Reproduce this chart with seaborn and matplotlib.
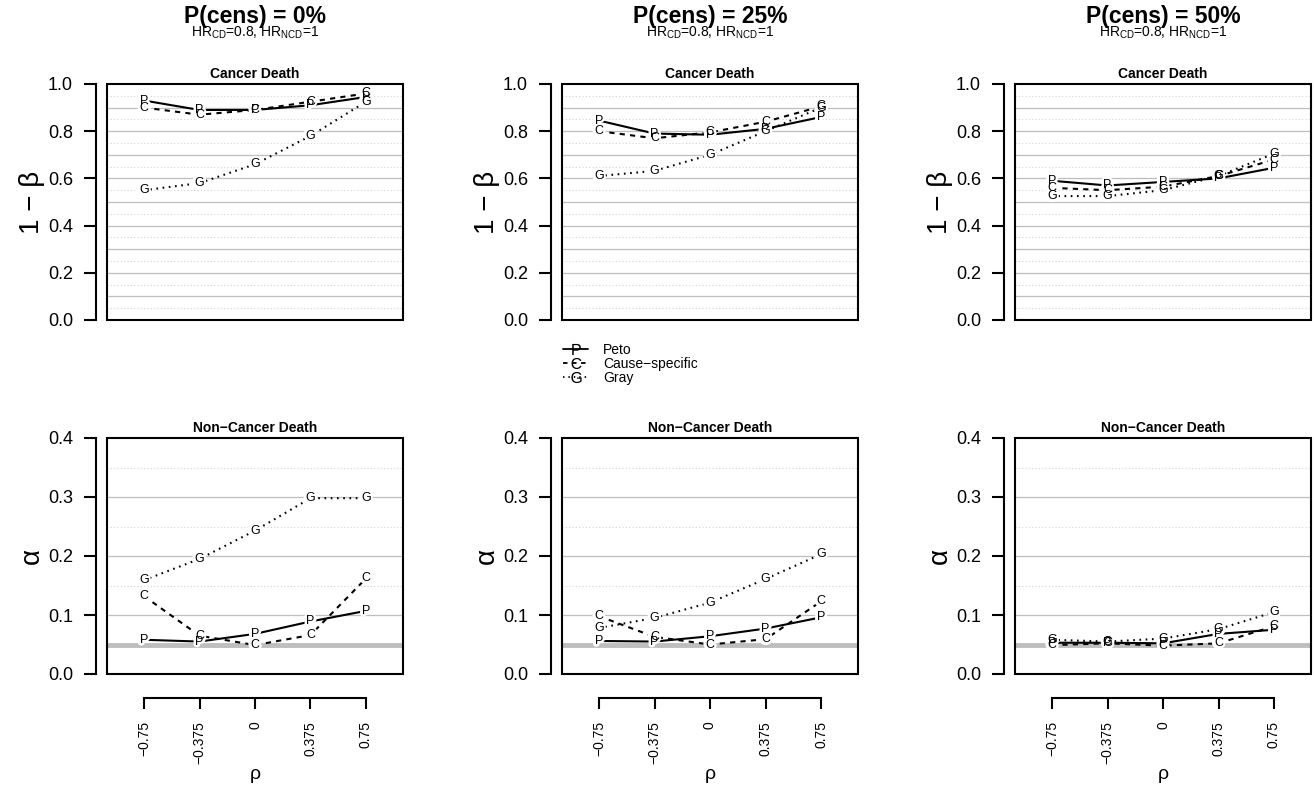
import matplotlib.pyplot as plt
import matplotlib.patheffects as pe
import pandas as pd
import seaborn as sns
from matplotlib.lines import Line2D
from matplotlib.patches import Rectangle

sns.set_style("ticks")
plt.rcParams["font.family"] = ["Liberation Sans", "DejaVu Sans"]
plt.rcParams["mathtext.fontset"] = "custom"
plt.rcParams["mathtext.rm"] = "Liberation Sans"
plt.rcParams["mathtext.it"] = "Liberation Sans:italic"
plt.rcParams["mathtext.bf"] = "Liberation Sans:bold"
plt.rcParams.update({"text.color": "black", "axes.labelcolor": "black",
                     "xtick.color": "black", "ytick.color": "black"})

OUTPUT_FIGURE_PATH = "out.png"

rho = [-0.75, -0.375, 0.0, 0.375, 0.75]
rho_labels = ["\u22120.75", "\u22120.375", "0", "0.375", "0.75"]
censoring = ["0%", "25%", "50%"]
methods = ["Peto", "Cause-specific", "Gray"]
method_labels = ["Peto", "Cause\u2212specific", "Gray"]
method_letters = ["P", "C", "G"]

# power (1 - beta), cancer death
pow0_peto = [0.93, 0.89, 0.89, 0.91, 0.945]
pow0_cs = [0.90, 0.87, 0.89, 0.925, 0.96]
pow0_gray = [0.55, 0.58, 0.66, 0.78, 0.925]
pow25_peto = [0.845, 0.79, 0.785, 0.81, 0.86]
pow25_cs = [0.80, 0.77, 0.795, 0.84, 0.905]
pow25_gray = [0.61, 0.632, 0.70, 0.80, 0.90]
pow50_peto = [0.59, 0.57, 0.585, 0.60, 0.645]
pow50_cs = [0.56, 0.55, 0.565, 0.61, 0.68]
pow50_gray = [0.525, 0.525, 0.55, 0.61, 0.705]

# type I error (alpha), non-cancer death
alpha0_peto = [0.058, 0.055, 0.068, 0.089, 0.107]
alpha0_cs = [0.132, 0.065, 0.049, 0.066, 0.162]
alpha0_gray = [0.159, 0.195, 0.243, 0.298, 0.298]
alpha25_peto = [0.056, 0.055, 0.064, 0.077, 0.096]
alpha25_cs = [0.098, 0.063, 0.050, 0.059, 0.123]
alpha25_gray = [0.078, 0.095, 0.121, 0.161, 0.203]
alpha50_peto = [0.053, 0.053, 0.052, 0.068, 0.075]
alpha50_cs = [0.049, 0.052, 0.048, 0.052, 0.081]
alpha50_gray = [0.058, 0.055, 0.060, 0.076, 0.105]

NOMINAL_ALPHA = 0.05

DASHES = {"Peto": "", "Cause-specific": (2.5, 2.5), "Gray": (0.8, 2.2)}
PALETTE = {m: "black" for m in methods}


def long_frame(peto, cs, gray):
    return pd.DataFrame({
        "rho": rho * 3,
        "value": peto + cs + gray,
        "method": [m for m in methods for _ in rho],
    })


def draw_panel(ax, df, ylim, major, minor):
    for y in minor:
        ax.axhline(y, color="#d4d4d4", lw=0.8, ls=(0, (1, 2)), zorder=0)
    for y in major:
        ax.axhline(y, color="#bebebe", lw=0.9, zorder=0)
    sns.lineplot(data=df, x="rho", y="value", hue="method", style="method",
                 palette=PALETTE, dashes=DASHES, lw=1.5, errorbar=None,
                 legend=False, ax=ax, zorder=2)
    letter_of = dict(zip(methods, method_letters))
    # white halo first so that overlapping letters all stay readable
    for _, row in df.iterrows():
        ax.text(row["rho"], row["value"], letter_of[row["method"]], ha="center", va="center",
                fontsize=9, color="white", zorder=4,
                path_effects=[pe.withStroke(linewidth=4, foreground="white")])
    for _, row in df.iterrows():
        ax.text(row["rho"], row["value"], letter_of[row["method"]], ha="center", va="center",
                fontsize=9, color="black", zorder=5)
    ax.set_xlim(-1.0, 1.0)
    ax.set_ylim(*ylim)
    ax.add_patch(Rectangle((0, 0), 1, 1, transform=ax.transAxes, fill=False,
                           lw=1.5, ec="black", zorder=6, clip_on=False))
    for side in ["top", "right"]:
        ax.spines[side].set_visible(False)
    ax.spines["left"].set_position(("outward", 8))
    ax.spines["left"].set_bounds(*ylim)
    ax.spines["left"].set_linewidth(1.5)
    ax.spines["left"].set_color("black")
    ax.tick_params(axis="y", direction="out", length=8.5, width=1.5, pad=8, labelsize=13,
                   color="black")


def main():
    fig = plt.figure(figsize=(13.14, 7.87), dpi=100)
    W, H = 1314, 787
    lefts = [107, 562, 1015]
    box_w, box_h = 296, 236

    power = [(pow0_peto, pow0_cs, pow0_gray),
             (pow25_peto, pow25_cs, pow25_gray),
             (pow50_peto, pow50_cs, pow50_gray)]
    alpha = [(alpha0_peto, alpha0_cs, alpha0_gray),
             (alpha25_peto, alpha25_cs, alpha25_gray),
             (alpha50_peto, alpha50_cs, alpha50_gray)]

    top_axes = []
    for i, left in enumerate(lefts):
        ax = fig.add_axes([left / W, 1 - 320 / H, box_w / W, box_h / H])
        draw_panel(ax, long_frame(*power[i]), (0, 1),
                   [0.1 * k for k in range(1, 10)],
                   [0.05 + 0.1 * k for k in range(10)])
        ax.set_yticks([0, 0.2, 0.4, 0.6, 0.8, 1.0])
        ax.set_yticklabels(["0.0", "0.2", "0.4", "0.6", "0.8", "1.0"])
        ax.spines["bottom"].set_visible(False)
        ax.tick_params(axis="x", bottom=False, labelbottom=False)
        ax.set_xlabel("")
        ax.set_ylabel("1 \u2212 \u03b2", fontsize=20)
        ax.yaxis.set_label_coords(-0.21, 0.5)
        ax.set_title("Cancer Death", fontsize=10, fontweight="bold", pad=4)
        top_axes.append(ax)

        cx = (left + box_w / 2) / W
        fig.text(cx, 1 - 16 / H, f"P(cens) = {censoring[i]}", ha="center", va="center",
                 fontsize=16.5, fontweight="bold")
        fig.text(cx, 1 - 33 / H, r"HR$_{\mathrm{CD}}$=0.8, HR$_{\mathrm{NCD}}$=1",
                 ha="center", va="center", fontsize=10)

    for i, left in enumerate(lefts):
        ax = fig.add_axes([left / W, 1 - 674 / H, box_w / W, box_h / H])
        ax.axhline(NOMINAL_ALPHA, color="#bebebe", lw=3.5, zorder=1)
        draw_panel(ax, long_frame(*alpha[i]), (0, 0.4),
                   [0.1, 0.2, 0.3], [0.15, 0.25, 0.35])
        ax.set_yticks([0, 0.1, 0.2, 0.3, 0.4])
        ax.set_yticklabels(["0.0", "0.1", "0.2", "0.3", "0.4"])
        ax.spines["bottom"].set_position(("outward", 17))
        ax.spines["bottom"].set_bounds(rho[0], rho[-1])
        ax.spines["bottom"].set_linewidth(1.5)
        ax.spines["bottom"].set_color("black")
        ax.set_xticks(rho)
        ax.set_xticklabels(rho_labels, rotation=90)
        ax.tick_params(axis="x", direction="out", length=8, width=1.5, pad=9,
                       labelsize=10, color="black")
        ax.set_xlabel("\u03c1", fontsize=14)
        ax.xaxis.set_label_coords(0.5, -0.39)
        ax.set_ylabel("\u03b1", fontsize=20)
        ax.yaxis.set_label_coords(-0.21, 0.5)
        ax.set_title("Non\u2212Cancer Death", fontsize=10, fontweight="bold", pad=4)

    handles = []
    for m, l in zip(methods, method_letters):
        h = Line2D([], [], color="black", lw=1.3, marker=f"$\\mathrm{{{l}}}$",
                   markersize=8, markeredgewidth=0)
        if DASHES[m]:
            h.set_dashes(DASHES[m])
        handles.append(h)
    top_axes[1].legend(handles, method_labels, loc="upper left",
                       bbox_to_anchor=(563 / W, 1 - 343 / H), bbox_transform=fig.transFigure,
                       frameon=False, fontsize=10, handlelength=1.8, handletextpad=1.1,
                       labelspacing=0.0, borderpad=0, borderaxespad=0)

    fig.savefig(OUTPUT_FIGURE_PATH, dpi=100)
    print(f"Saved figure to {OUTPUT_FIGURE_PATH}")


if __name__ == "__main__":
    main()
